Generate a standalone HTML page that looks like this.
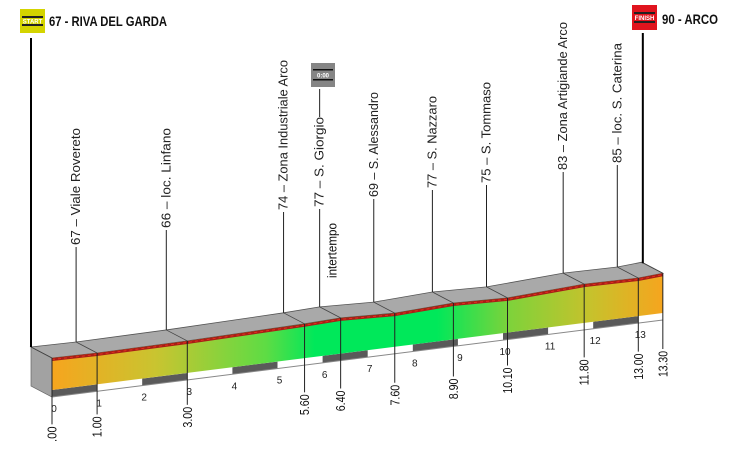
<!DOCTYPE html>
<html><head><meta charset="utf-8">
<style>
html,body{margin:0;padding:0;background:#fff;}
svg{display:block;font-family:"Liberation Sans",sans-serif;}
</style></head>
<body>
<svg id="chart" width="742" height="473" viewBox="0 0 742 473" xmlns="http://www.w3.org/2000/svg">
<defs>
<linearGradient id="grad" gradientUnits="userSpaceOnUse" x1="52" y1="0" x2="663" y2="0">
<stop offset="0" stop-color="#f6a51e"/>
<stop offset="0.17" stop-color="#c9c430"/>
<stop offset="0.35" stop-color="#5edc44"/>
<stop offset="0.43" stop-color="#00e85a"/>
<stop offset="0.63" stop-color="#00e85a"/>
<stop offset="0.75" stop-color="#7fd23a"/>
<stop offset="0.88" stop-color="#c6c22c"/>
<stop offset="1" stop-color="#f6a51e"/>
</linearGradient>
</defs>
<g id="layer"></g>
</svg>
<script>
// ---- data ----
const pointKm = [0, 1, 3, 5.6, 6.4, 7.6, 8.9, 10.1, 11.8, 13.0, 13.3];
const pointElev = [67, 65, 67, 74, 78, 72, 80, 75, 87, 85, 90];
const distLabels = [".00", "1.00", "3.00", "5.60", "6.40", "7.60", "8.90", "10.10", "11.80", "13.00", "13.30"];
const placeNames = ["67 – Viale Rovereto", "66 – loc. Linfano", "74 – Zona Industriale Arco", "77 – S. Giorgio", "69 – S. Alessandro", "77 – S. Nazzaro", "75 – S. Tommaso", "83 – Zona Artigiande Arco", "85 – loc. S. Caterina"];
const kmTicks = [0,1,2,3,4,5,6,7,8,9,10,11,12,13];
// style (not data)
const nameBottom = [245, 228, 210, 207, 197, 188, 183, 170, 163];
const nameLen = [117, 100, 150, 90, 105, 92, 101, 148, 120];

const NS = "http://www.w3.org/2000/svg";
const layer = document.getElementById('layer');
function mk(tag, attrs, parent) {
  const e = document.createElementNS(NS, tag);
  for (const k in attrs) e.setAttribute(k, attrs[k]);
  (parent || layer).appendChild(e);
  return e;
}
// axis functions
const X0 = 52, KMPX = 45.1, END_PAD = 11;
function X(km, i) { return X0 + km * KMPX + (i === pointKm.length - 1 ? END_PAD : 0); }
function baseY(x) { return 390 - (x - X0) * 0.126; }
function H(e) { return 32 + 0.34 * (e - 67); }
const DX = -21, DY = -11;

const pts = pointKm.map((k, i) => { const x = X(k, i); return [x, baseY(x) - H(pointElev[i])]; });
const lastX = pts[pts.length - 1][0];

// km strip
kmTicks.forEach((k) => {
  const x1 = X(k), x2 = Math.min(X(k + 1), lastX);
  if (k % 2 === 0) {
    const p = mk('polygon', {points: `${x1},${baseY(x1)} ${x2},${baseY(x2)} ${x2},${baseY(x2)+7} ${x1},${baseY(x1)+7}`, fill: '#5a5a5a'});
    
    
  }
  const t = mk('text', {x: x1 + 2, y: baseY(x1) + 22, 'font-size': 10, fill: '#222', 'text-anchor': 'middle'});
  t.textContent = k;
  
  
});
const sl = mk('line', {x1: X0, y1: baseY(X0)+7, x2: lastX, y2: baseY(lastX)+7, stroke: '#888', 'stroke-width': 1});



// left side face
const sideFace = mk('polygon', {points: `${X0+DX},${pts[0][1]+DY} ${X0},${pts[0][1]} ${X0},${baseY(X0)+7} ${X0+DX},${baseY(X0)+7+DY}`, fill: '#a2a2a2', stroke: '#666', 'stroke-width': 0.7});



// top face
const topPts = pts.map(p => `${p[0]},${p[1]}`).join(' ') + ' ' + pts.slice().reverse().map(p => `${p[0]+DX},${p[1]+DY}`).join(' ');
const topFace = mk('polygon', {points: topPts, fill: '#a9a9a9', stroke: '#555', 'stroke-width': 0.8});


pts.forEach(p => {
  const l = mk('line', {x1: p[0], y1: p[1], x2: p[0]+DX, y2: p[1]+DY, stroke: '#444', 'stroke-width': 0.8});
  
  
});

// front face
const frontPts = pts.map(p => `${p[0]},${p[1]}`).join(' ') + ` ${lastX},${baseY(lastX)} ${X0},${baseY(X0)}`;
const frontFace = mk('polygon', {points: frontPts, fill: 'url(#grad)'});


const rl = mk('polyline', {points: pts.map(p => `${p[0]},${p[1]+1.5}`).join(' '), fill: 'none', stroke: '#a81e16', 'stroke-width': 3});


const rl2 = mk('polyline', {points: pts.map(p => `${p[0]},${p[1]+1.5}`).join(' '), fill: 'none', stroke: '#e03020', 'stroke-width': 1, 'stroke-dasharray': '3 3'});



// bottom distance lines & labels
pts.forEach((p, i) => {
  const bottom = 442 - (p[0] - X0) * 65 / 611;
  const len = distLabels[i].length * 5.2;
  const l = mk('line', {x1: p[0], y1: p[1], x2: p[0], y2: bottom - len - 2, stroke: '#222', 'stroke-width': 1});
  
  
  const t = mk('text', {x: p[0], y: bottom, 'font-size': 13, fill: '#111', 'dominant-baseline': 'central', transform: `rotate(-90 ${p[0]} ${bottom})`, textLength: len, lengthAdjust: 'spacingAndGlyphs'});
  t.textContent = distLabels[i];
  
  
});

// upper place labels
placeNames.forEach((label, j) => {
  const i = j + 1;
  const lx = pts[i][0] + DX, ly = pts[i][1] + DY;
  const b = nameBottom[j];
  const l = mk('line', {x1: lx, y1: ly, x2: lx, y2: b + 2, stroke: '#222', 'stroke-width': 1});
  
  
  const t = mk('text', {x: lx, y: b, 'font-size': 12.5, fill: '#222', 'dominant-baseline': 'central', transform: `rotate(-90 ${lx} ${b})`, textLength: nameLen[j], lengthAdjust: 'spacingAndGlyphs'});
  t.textContent = label;
  
  
});

// start & finish poles
const sp = mk('line', {x1: X0 + DX, y1: 38, x2: X0 + DX, y2: pts[0][1] + DY, stroke: '#000', 'stroke-width': 2});


const fp = mk('line', {x1: lastX + DX + 1, y1: 33, x2: lastX + DX + 1, y2: pts[pts.length-1][1] + DY + 1, stroke: '#000', 'stroke-width': 2});



// intermediate timing: line above S. Giorgio label
const gx = pts[4][0] + DX;
const gl = mk('line', {x1: gx, y1: 117, x2: gx, y2: 89, stroke: '#222', 'stroke-width': 1});


</script>
<script>
(function(){
const svg=document.getElementById('chart');
svg.insertAdjacentHTML('beforeend',`<g>
<rect x="20" y="9" width="25" height="24" fill="#d4d400"/>
<rect x="22" y="16" width="21" height="2" fill="#222"/>
<rect x="22" y="24" width="21" height="2" fill="#222"/>
<text x="32.5" y="23.5" font-size="6" font-weight="bold" fill="#fff" text-anchor="middle">START</text>
<text x="49" y="26" font-size="14" font-weight="bold" fill="#111" textLength="118" lengthAdjust="spacingAndGlyphs">67 - RIVA DEL GARDA</text>
</g>
<g>
<rect x="632" y="5" width="25" height="25" fill="#e0141e"/>
<rect x="634" y="12" width="21" height="2" fill="#222"/>
<rect x="634" y="21" width="21" height="2" fill="#222"/>
<text x="644.5" y="20" font-size="6" font-weight="bold" fill="#fff" text-anchor="middle">FINISH</text>
<text x="662" y="24" font-size="14" font-weight="bold" fill="#111" textLength="56" lengthAdjust="spacingAndGlyphs">90 - ARCO</text>
</g>
<g>
<rect x="311" y="63" width="24" height="24" fill="#858585"/>
<rect x="313" y="69" width="20" height="1.5" fill="#111"/>
<rect x="313" y="79" width="20" height="1.5" fill="#111"/>
<text x="323" y="77.5" font-size="6" font-weight="bold" fill="#fff" text-anchor="middle">0:00</text>
<text x="332" y="278" font-size="13" fill="#111" dominant-baseline="central" transform="rotate(-90 332 278)" textLength="55" lengthAdjust="spacingAndGlyphs">intertempo</text>
</g>`);
})();
</script>
</body></html>
